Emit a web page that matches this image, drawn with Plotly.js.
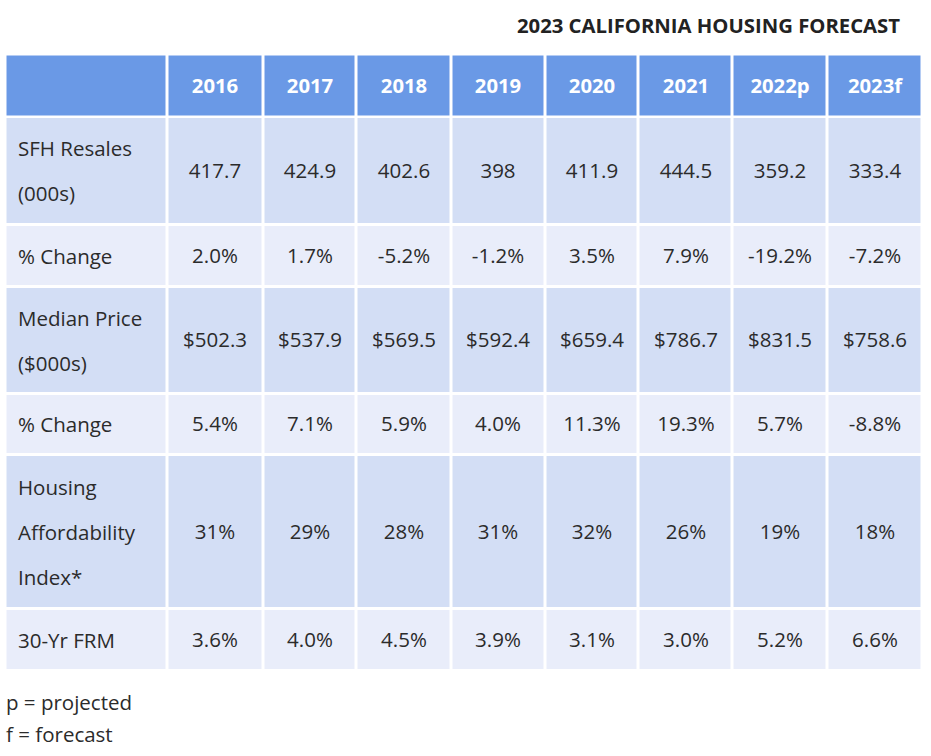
<!DOCTYPE html>
<html>
<head>
<meta charset="utf-8">
<script src="https://cdn.plot.ly/plotly-3.0.1.min.js"></script>
<style>html,body{margin:0;padding:0;background:#fff;}</style>
</head>
<body>
<div id="chart" style="width:931px;height:756px;"></div>
<script>
// ---- data ----
var chartTitle = '2023 CALIFORNIA HOUSING FORECAST';
var years = ['2016', '2017', '2018', '2019', '2020', '2021', '2022p', '2023f'];
var rowLabels = [
  ['SFH Resales', '(000s)'],
  ['% Change'],
  ['Median Price', '($000s)'],
  ['% Change'],
  ['Housing', 'Affordability', 'Index*'],
  ['30-Yr FRM']
];
var sfhResales = [417.7, 424.9, 402.6, 398, 411.9, 444.5, 359.2, 333.4];
var sfhChange = [2.0, 1.7, -5.2, -1.2, 3.5, 7.9, -19.2, -7.2];
var medianPrice = [502.3, 537.9, 569.5, 592.4, 659.4, 786.7, 831.5, 758.6];
var priceChange = [5.4, 7.1, 5.9, 4.0, 11.3, 19.3, 5.7, -8.8];
var affordIndex = [31, 29, 28, 31, 32, 26, 19, 18];
var frm30 = [3.6, 4.0, 4.5, 3.9, 3.1, 3.0, 5.2, 6.6];
var footnotes = ['p = projected', 'f = forecast'];

// ---- formatting ----
function pct(v) { return v.toFixed(1) + '%'; }
var rowValues = [
  sfhResales.map(function (v) { return String(v); }),
  sfhChange.map(pct),
  medianPrice.map(function (v) { return '$' + v.toFixed(1); }),
  priceChange.map(pct),
  affordIndex.map(function (v) { return v + '%'; }),
  frm30.map(pct)
];

// ---- layout geometry (pixel-space axes) ----
var W = 931, H = 756;
var colEdges = [5.5, 167.5, 263, 356.5, 451.5, 545, 638.5, 732.5, 827, 922.5];
var headerEdges = [54.5, 117];
var bodyEdges = [117, 224.5, 286.5, 393.5, 454.5, 608.5, 670.5];
var lineStep = 45;

var headerColor = 'rgb(106,153,230)';
var darkColor = 'rgb(211,222,245)';
var lightColor = 'rgb(233,237,250)';
var textColor = '#2b2b2b';
var FONT = 'Open Sans';
var BODY_SIZE = 20.5;

// shade index per body row: 1 = dark, 2 = light
var zBody = rowLabels.map(function (_, r) {
  var shade = (r % 2 === 0) ? 1 : 2;
  return colEdges.slice(1).map(function () { return shade; });
});
var textBody = rowValues.map(function (vals) { return [''].concat(vals); });
var zHeader = [colEdges.slice(1).map(function () { return 0; })];
var textHeader = [[''].concat(years)];

var cscale = [[0, headerColor], [0.5, darkColor], [1, lightColor]];

var header = {
  type: 'heatmap',
  x: colEdges, y: headerEdges, z: zHeader,
  zmin: 0, zmax: 2, colorscale: cscale, showscale: false,
  xgap: 3, ygap: 3,
  text: textHeader, texttemplate: '<b>%{text}</b>',
  textfont: {family: FONT, size: 20.3, color: '#ffffff', weight: 700},
  hoverinfo: 'skip'
};
var body = {
  type: 'heatmap',
  x: colEdges, y: bodyEdges, z: zBody,
  zmin: 0, zmax: 2, colorscale: cscale, showscale: false,
  xgap: 3, ygap: 3,
  text: textBody, texttemplate: '%{text}',
  textfont: {family: FONT, size: BODY_SIZE, color: textColor},
  hoverinfo: 'skip'
};

var annotations = [];
rowLabels.forEach(function (lines, r) {
  var mid = (bodyEdges[r] + bodyEdges[r + 1]) / 2;
  var n = lines.length;
  lines.forEach(function (ln, i) {
    annotations.push({
      xref: 'x', yref: 'y', x: 16, y: mid + (i - (n - 1) / 2) * lineStep,
      xanchor: 'left', yanchor: 'middle', showarrow: false, text: ln,
      font: {family: FONT, size: BODY_SIZE, color: textColor}
    });
  });
});
footnotes.forEach(function (t, i) {
  annotations.push({
    xref: 'x', yref: 'y', x: 4, y: 702 + i * 32,
    xanchor: 'left', yanchor: 'middle', showarrow: false, text: t,
    font: {family: FONT, size: BODY_SIZE, color: textColor}
  });
});

var layout = {
  width: W, height: H,
  margin: {l: 0, r: 0, t: 0, b: 0, pad: 0},
  paper_bgcolor: '#ffffff', plot_bgcolor: '#ffffff',
  title: {
    text: chartTitle,
    font: {family: FONT, size: 20.3, weight: 700, color: '#222222'},
    xref: 'container', yref: 'container',
    x: 900 / W, xanchor: 'right', y: 1 - 26 / H, yanchor: 'middle'
  },
  xaxis: {range: [0, W], visible: false, fixedrange: true, showgrid: false, zeroline: false},
  yaxis: {range: [H, 0], visible: false, fixedrange: true, showgrid: false, zeroline: false},
  annotations: annotations,
  showlegend: false
};

Plotly.newPlot('chart', [header, body], layout, {displayModeBar: false, staticPlot: true});
</script>
</body>
</html>
